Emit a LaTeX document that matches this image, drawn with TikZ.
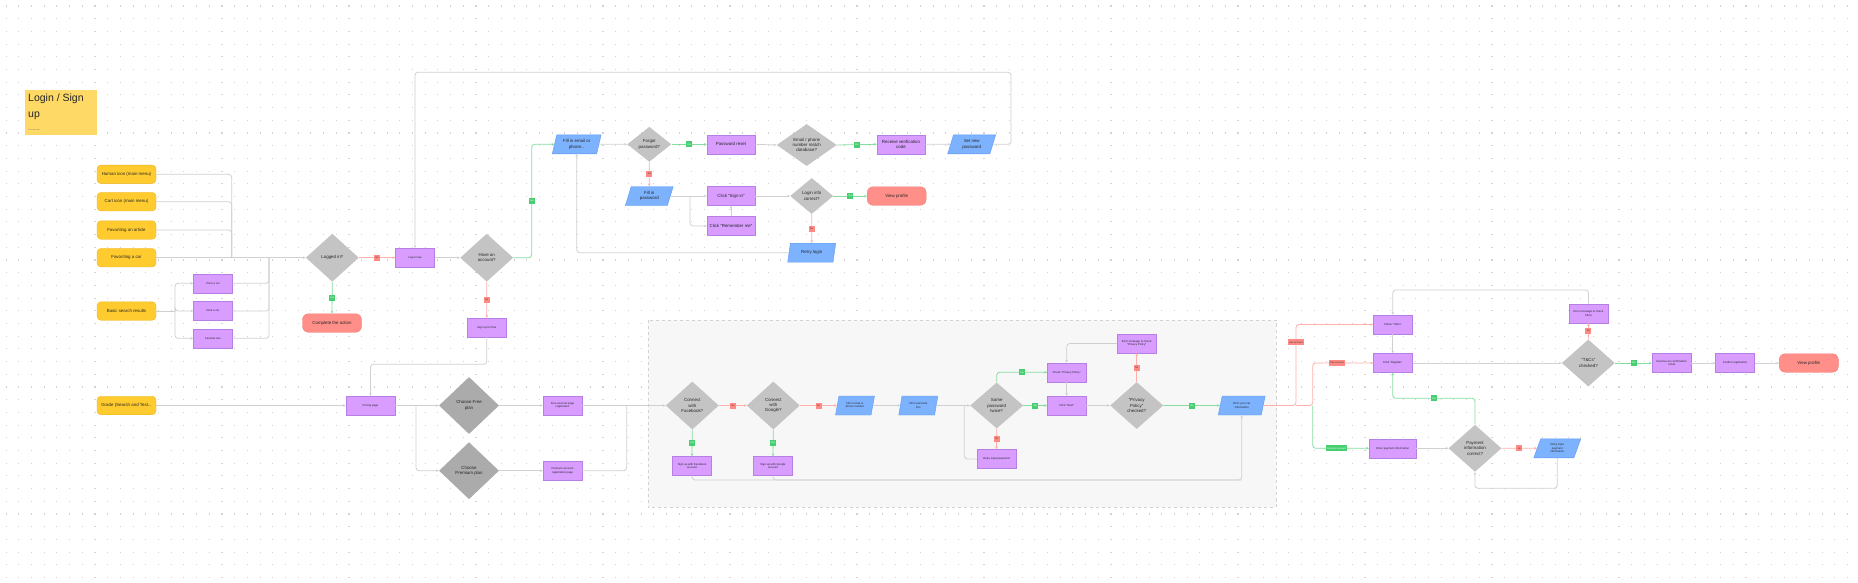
\documentclass[tikz,border=0pt]{standalone}
\usepackage{fontspec}
\setmainfont{Liberation Sans}
\usetikzlibrary{arrows.meta,positioning,shapes.geometric,calc}
\definecolor{dotc}{HTML}{D2D2D2}
\definecolor{sticky}{HTML}{FFD966}
\definecolor{ylw}{HTML}{FFCB2E}
\definecolor{ylwd}{HTML}{EBB520}
\definecolor{prp}{HTML}{D89DFF}
\definecolor{prpd}{HTML}{B67FE6}
\definecolor{blu}{HTML}{7DB2FF}
\definecolor{blud}{HTML}{5E98F0}
\definecolor{dia}{HTML}{C4C4C4}
\definecolor{diad}{HTML}{ABABAB}
\definecolor{trm}{HTML}{FF8F88}
\definecolor{trmd}{HTML}{F07A73}
\definecolor{linec}{HTML}{D0D0D0}
\definecolor{lineg}{HTML}{86DDA0}
\definecolor{liner}{HTML}{FFB0AB}
\definecolor{lblg}{HTML}{45CF70}
\definecolor{lblr}{HTML}{FF8A84}
\newcommand\fzA{\fontsize{4.4}{5.3}\selectfont}
\newcommand\fzB{\fontsize{2.8}{3.4}\selectfont}
\newcommand\fzC{\fontsize{2.4}{2.8}\selectfont}

\begin{document}
\begin{tikzpicture}[x=1pt,y=-1pt,>={Stealth[length=2.8pt,width=2.6pt]},
  every node/.style={font=\fzA,inner sep=1pt,align=center,text=black!85},
  trigger/.style={rounded corners=4pt,draw=ylwd,fill=ylw,minimum width=59pt,minimum height=18.5pt},
  proc/.style={sharp corners,draw=prpd,fill=prp,minimum width=39pt,minimum height=19pt,font=\fzB},
  procw/.style={proc,minimum width=48pt,font=\fzA},
  decision/.style={diamond,sharp corners,draw=none,fill=dia,inner sep=0pt,minimum width=53pt,minimum height=48pt},
  io/.style={trapezium,sharp corners,trapezium left angle=72,trapezium right angle=108,trapezium stretches=true,
    draw=blud,fill=blu,minimum width=47pt,minimum height=19pt,inner sep=0pt,font=\fzB},
  iow/.style={io,minimum width=49pt,font=\fzA},
  term/.style={rounded corners=6pt,draw=trmd,fill=trm,minimum width=59pt,minimum height=18.5pt},
  flow/.style={draw=linec,line width=.8pt,rounded corners=3pt},
  flowyes/.style={flow,draw=lineg},
  flowno/.style={flow,draw=liner},
  yeslbl/.style={sharp corners,draw=none,fill=lblg,text=white,font=\fzC,inner sep=1pt,minimum width=6pt,minimum height=6pt},
  nolbl/.style={sharp corners,draw=none,fill=lblr,text=black!80,font=\fzC,inner sep=1pt,minimum width=6pt,minimum height=6pt}]
\useasboundingbox (0,0) rectangle (1858,582);
\fill[white] (0,0) rectangle (1858,582);
% dotted canvas
\foreach \r in {0,...,45}
  \draw[dotc,line width=1.1pt,dash pattern=on 1.1pt off 11.6pt] (5.5,6+12.7*\r) -- (1858,6+12.7*\r);
% title sticky
\fill[sticky] (25,90) rectangle (97,135);
\node[anchor=north west,align=left,font=\fontsize{10.5}{15.5}\selectfont,inner sep=0pt] (title) at (28,94) {Login / Sign\\up};
\node[anchor=west,font=\fontsize{1.8}{2}\selectfont,text=black!55,inner sep=0pt] (subtitle) at (28,130) {Consumer site};
% sign-up group
\draw[gray!35,dashed,fill=black!3] (647.7,320) rectangle (1276,507.3);

% entry points
\node[trigger] (human) at (126.5,174.3) {Human icon (main menu)};
\node[trigger] (cart) at (126.5,201.7) {Cart icon (main menu)};
\node[trigger] (favart) at (126.5,230) {Favoriting an article};
\node[trigger] (favcar) at (126.5,257.7) {Favoriting a car};
\node[trigger] (basic) at (126.5,311) {Basic search results};
\node[trigger] (grade) at (126.5,405.5) {Grade (Search and Test...};
\node[proc] (price) at (213,283.3) {Price a car};
\node[proc] (rent) at (213,311) {Rent a car};
\node[proc] (favone) at (213,338.3) {Favorite one};

% login
\node[decision] (logged) at (332.3,257.7) {Logged in?};
\node[term] (complete) at (332,323) {Complete the action};
\node[proc] (login) at (415,257.7) {Log in now};
\node[decision] (account) at (486.7,257.7) {Have an\\account?};
\node[proc] (signup) at (486.8,327.5) {Sign up for free};
\node[iow] (fillmail) at (576.7,144.3) {Fill in email or\\phone...};
\node[decision,minimum width=44pt,minimum height=35pt] (forgot) at (649.3,144.3) {Forgot\\password?};
\node[procw] (pwreset) at (731,144.3) {Password reset};
\node[decision,minimum width=60pt,minimum height=42pt] (match) at (806.7,145) {Email / phone\\number match\\database?};
\node[procw] (verify) at (901,144.3) {Receive verification\\code};
\node[iow,minimum width=48pt] (setpw) at (971.7,144.3) {Set new\\password};
\node[iow,minimum width=48pt] (fillpw) at (649.3,196) {Fill in\\password};
\node[procw] (signin) at (731,196) {Click "Sign in"};
\node[procw] (remember) at (731,226) {Click "Remember me"};
\node[decision,minimum width=43pt,minimum height=36pt] (loginok) at (811.7,196) {Login info\\correct?};
\node[term] (viewA) at (896.7,196) {View profile};
\node[iow,minimum width=48pt] (retry) at (811.7,252.7) {Retry login};

% sign up
\node[proc,minimum width=49pt] (pricing) at (370.5,405.5) {Pricing page};
\node[decision,fill=diad,minimum width=60pt,minimum height=57pt] (freeplan) at (469,405.5) {Choose Free\\plan};
\node[decision,fill=diad,minimum width=60pt,minimum height=57pt] (premplan) at (469,470.7) {Choose\\Premium plan};
\node[proc] (freereg) at (562.5,405.5) {Free account page\\registration};
\node[proc] (premreg) at (562.5,470.7) {Premium account\\registration page};
\node[decision] (fb) at (692.3,405.5) {Connect\\with\\Facebook?};
\node[decision] (google) at (773.3,405.5) {Connect\\with\\Google?};
\node[proc] (fbacc) at (692,466) {Sign up with Facebook\\account};
\node[proc] (gacc) at (773,466) {Sign up with Google\\account};
\node[io,minimum width=39pt] (fillmailB) at (855,405.5) {Fill in email or\\phone number};
\node[io,minimum width=39pt] (personal) at (918.3,405.5) {Fill in personal\\info};
\node[decision,minimum height=46pt] (same) at (996.7,405.5) {Same\\password\\twice?};
\node[proc] (retrypw) at (996.5,459) {Retry input password};
\node[proc] (check) at (1066.7,372.3) {Check "Privacy Policy"};
\node[proc] (next) at (1066.7,405.5) {Click "Next"};
\node[decision,minimum height=47pt] (pp) at (1136.7,405.5) {"Privacy\\Policy"\\checked?};
\node[proc] (ppmsg) at (1136.7,343.5) {Error message to check\\"Privacy Policy"};
\node[io] (carinfo) at (1241.7,405.5) {Fill in your car\\information};

% registration
\node[proc] (tcs) at (1392.8,324.5) {Check "T\&Cs"};
\node[proc] (register) at (1392.8,363) {Click "Register"};
\node[proc,minimum width=47pt] (enterpay) at (1392.7,448.3) {Enter payment information};
\node[decision,minimum height=47pt] (payok) at (1475,448.3) {Payment\\information\\correct?};
\node[io] (retrypay) at (1557.3,448.3) {Retry input\\payment\\information};
\node[decision,minimum height=47pt] (tcsok) at (1588.3,363) {"T\&Cs"\\checked?};
\node[proc] (tcsmsg) at (1588.5,313.3) {Error message to check\\T\&Cs};
\node[proc] (confemail) at (1671.7,363) {Receive an confirmation\\email};
\node[proc] (confreg) at (1735,363) {Confirm registration};
\node[term] (viewB) at (1808.8,363) {View profile};

% junctions
\coordinate (jA) at (231.7,257.7);
\coordinate (jB) at (175,311);
\coordinate (jC) at (269,257.7);
\coordinate (jD) at (531.7,257.7);
\coordinate (jE) at (1011,72.3);
\coordinate (jF) at (690,196);
\coordinate (jG) at (370.5,364.3);
\coordinate (jH) at (416,405.5);
\coordinate (jI) at (626.7,405.5);
\coordinate (jJ) at (964.3,405.5);
\coordinate (jK) at (1241.7,480);
\coordinate (jL) at (1296,405.5);
\coordinate (jM) at (1312.7,405.5);
\coordinate (jN) at (1475,488.3);
\coordinate (jO) at (1392.7,398.3);
\coordinate (jP) at (1392.7,290);

% connectors
\foreach \src in {human,cart,favart}
  \draw[flow] (\src.east) -| (jA);
\draw[flow,->] (favcar.east) -- (logged.west);
\draw[flow] (basic.east) -- (jB);
\foreach \dst in {price,rent,favone}
  \draw[flow,->] (jB) |- (\dst.west);
\foreach \src in {price,rent,favone}
  \draw[flow] (\src.east) -| (jC);
\draw[flowno,->] (logged.east) -- node[nolbl]{No} (login.west);
\draw[flowyes,->] (logged.south) -- node[yeslbl]{Yes} (complete.north);
\draw[flow,->] (login.east) -- (account.west);
\draw[flowyes,->] (account.east) -- (jD) |- node[yeslbl,pos=.25]{Yes} (fillmail.west);
\draw[flowno,->] (account.south) -- node[nolbl]{No} (signup.north);
\draw[flow,->] (fillmail.east) -- (forgot.west);
\draw[flowyes,->] (forgot.east) -- node[yeslbl]{Yes} (pwreset.west);
\draw[flow,->] (pwreset.east) -- (match.west);
\draw[flowyes,->] (match.east) -- node[yeslbl]{Yes} (verify.west);
\draw[flow,->] (verify.east) -- (setpw.west);
\draw[flow,->] (setpw.east) -| (jE) -| (login.north);
\draw[flowno,->] (forgot.south) -- node[nolbl]{No} (fillpw.north);
\draw[flow,->] (fillpw.east) -- (signin.west);
\draw[flow,->] (jF) |- (remember.west);
\draw[flow,->] (remember.north) -- (signin.south);
\draw[flow,->] (signin.east) -- (loginok.west);
\draw[flowyes,->] (loginok.east) -- node[yeslbl]{Yes} (viewA.west);
\draw[flowno,->] (loginok.south) -- node[nolbl]{No} (retry.north);
\draw[flow,->] (retry.west) -| (fillmail.south);
\draw[flow,->] (signup.south) |- (jG) -- (pricing.north);
\draw[flow,->] (grade.east) -- (pricing.west);
\draw[flow,->] (pricing.east) -- (freeplan.west);
\draw[flow,->] (jH) |- (premplan.west);
\draw[flow,->] (freeplan.east) -- (freereg.west);
\draw[flow,->] (premplan.east) -- (premreg.west);
\draw[flow,->] (freereg.east) -- (fb.west);
\draw[flow] (premreg.east) -| (jI);
\draw[flowno,->] (fb.east) -- node[nolbl]{No} (google.west);
\draw[flowyes,->] (fb.south) -- node[yeslbl]{Yes} (fbacc.north);
\draw[flowno,->] (google.east) -- node[nolbl]{No} (fillmailB.west);
\draw[flowyes,->] (google.south) -- node[yeslbl]{Yes} (gacc.north);
\draw[flow,->] (fillmailB.east) -- (personal.west);
\draw[flow,->] (personal.east) -- (same.west);
\draw[flowno,->] (same.south) -- node[nolbl]{No} (retrypw.north);
\draw[flow] (retrypw.west) -| (jJ);
\draw[flowyes,->] (same.east) -- node[yeslbl]{Yes} (next.west);
\draw[flowyes,->] (same.north) |- node[yeslbl,pos=.75]{Yes} (check.west);
\draw[flow,->] (check.south) -- (next.north);
\draw[flow,->] (next.east) -- (pp.west);
\draw[flowno,->] (pp.north) -- node[nolbl]{No} (ppmsg.south);
\draw[flow,->] (ppmsg.west) -| (check.north);
\draw[flowyes,->] (pp.east) -- node[yeslbl]{Yes} (carinfo.west);
\draw[flow,->] (fbacc.south) |- (jK) -- (carinfo.south);
\draw[flow] (gacc.south) |- (jK);
\draw[flowno,->] (carinfo.east) -- (jL) |- node[nolbl,pos=.39]{Has account} (tcs.west);
\draw[flowno,->] (jL) -- (jM) |- node[nolbl,pos=.7]{Free account} (register.west);
\draw[flowyes,->] (jM) |- node[yeslbl,pos=.71]{Premium account} (enterpay.west);
\draw[flow,->] (tcs.south) -- (register.north);
\draw[flow,->] (register.east) -- (tcsok.west);
\draw[flow,->] (enterpay.east) -- (payok.west);
\draw[flowno,->] (payok.east) -- node[nolbl]{No} (retrypay.west);
\draw[flow,->] (retrypay.south) |- (jN) -- (payok.south);
\draw[flowyes,->] (payok.north) |- node[yeslbl,pos=.75]{Yes} (jO) -- (register.south);
\draw[flowno,->] (tcsok.north) -- node[nolbl]{No} (tcsmsg.south);
\draw[flow,->] (tcsmsg.north) |- (jP) -- (tcs.north);
\draw[flowyes,->] (tcsok.east) -- node[yeslbl]{Yes} (confemail.west);
\draw[flow,->] (confemail.east) -- (confreg.west);
\draw[flow,->] (confreg.east) -- (viewB.west);
\end{tikzpicture}
\end{document}
